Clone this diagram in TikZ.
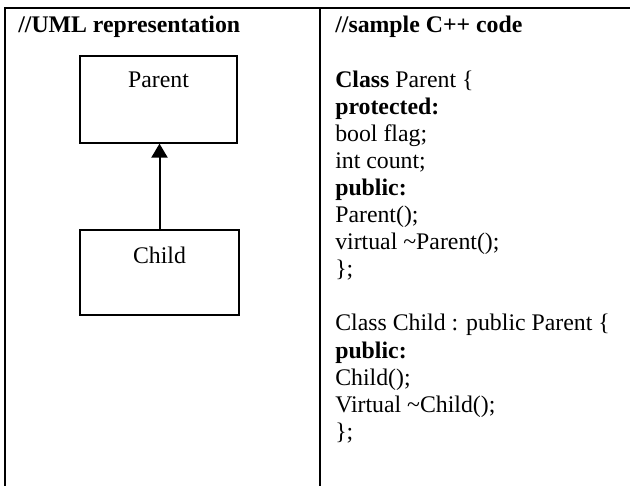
\documentclass[tikz,border=0pt]{standalone}
\usepackage{fontspec}
\setmainfont{Liberation Serif}
\usetikzlibrary{arrows.meta}
\tikzset{
  codeline/.style={anchor=base west, inner sep=0pt, font=\fontsize{17.85pt}{20.3pt}\selectfont},
  umlbox/.style={draw, line width=1.2pt, inner sep=0pt, anchor=north, align=center, font=\fontsize{17.85pt}{20.3pt}\selectfont},
  rule/.style={line width=1.5pt},
  inherit/.style={line width=1.5pt, -{Triangle[width=12pt,length=10.5pt]}}
}
\begin{document}
\begin{tikzpicture}[x=0.75pt,y=-0.75pt]
\useasboundingbox (0,0) rectangle (630,486);
% table rules
\coordinate (tl) at (4,7.8);
\coordinate (tr) at (630,7.8);
\coordinate (lb) at (5,486);
\coordinate (mt) at (319.7,7.8);
\coordinate (mb) at (319.7,486);
\draw[rule] (tl) -- (tr);
\draw[rule] (5,7.8) -- (lb);
\draw[rule] (mt) -- (mb);
% titles
\node[codeline] (t1) at (18,32) {\textbf{//UML representation}};
\node[codeline] (t2) at (335,32) {\textbf{//sample C++ code}};
% UML boxes
\node[umlbox, minimum width=117.75pt, text height=24pt, text depth=41.25pt] (parent) at (158.5,55) {Parent};
\node[umlbox, minimum width=119.25pt, text height=25.5pt, text depth=38.25pt] (child) at (159.5,229) {Child};
\draw[inherit] (child.north) -- (child.north |- parent.south);
% code
\node[codeline] (c0) at (335,87.0) {\textbf{Class} Parent \{};
\node[codeline] (c1) at (335,114.1) {\textbf{protected:}};
\node[codeline] (c2) at (335,141.2) {bool flag;};
\node[codeline] (c3) at (335,168.3) {int count;};
\node[codeline] (c4) at (335,195.4) {\textbf{public:}};
\node[codeline] (c5) at (335,222.5) {Parent();};
\node[codeline] (c6) at (335,249.6) {virtual \textasciitilde Parent();};
\node[codeline] (c7) at (335,276.7) {\};};
\node[codeline] (c9) at (335,330.9) {Class Child : public Parent \{};
\node[codeline] (c10) at (335,358.0) {\textbf{public:}};
\node[codeline] (c11) at (335,385.1) {Child();};
\node[codeline] (c12) at (335,412.2) {Virtual \textasciitilde Child();};
\node[codeline] (c13) at (335,439.3) {\};};
\end{tikzpicture}
\end{document}
